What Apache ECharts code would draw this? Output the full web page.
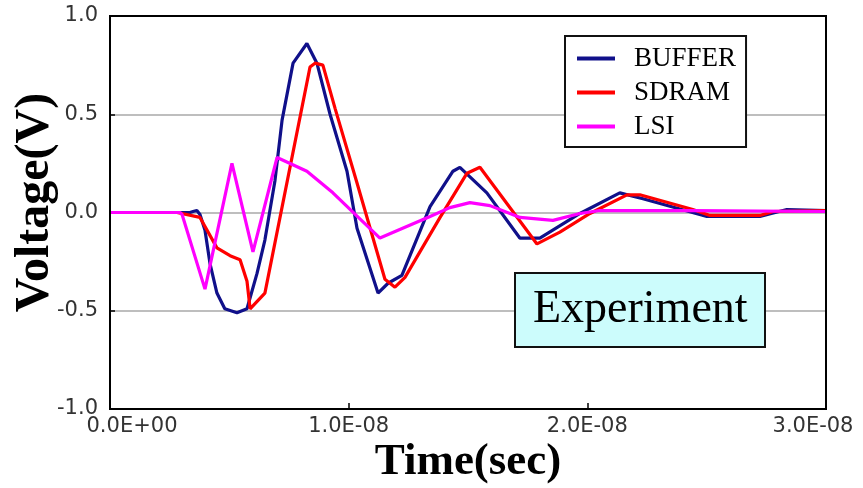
<!DOCTYPE html>
<html>
<head>
<meta charset="utf-8">
<script src="https://cdn.jsdelivr.net/npm/echarts@6/dist/echarts.min.js"></script>
<style>
html,body{margin:0;padding:0;background:#fff;}
#chart{width:863px;height:488px;}
</style>
</head>
<body>
<div id="chart"></div>
<script>
// Time in ns (1 ns = 1E-09 sec), voltage in V
var seriesNames = ['BUFFER', 'SDRAM', 'LSI'];
var xTicksNs = [0, 10, 20, 30];
var yTicks = [-1.0, -0.5, 0.0, 0.5, 1.0];

var bufferT = [0, 3.35, 3.48, 3.64, 3.77, 3.98, 4.19, 4.48, 4.81, 5.32, 5.74, 6.16, 6.49, 6.91, 7.21, 7.67, 8.25, 8.67, 9.22, 9.93, 10.35, 11.23, 11.65, 12.23, 13.41, 14.37, 14.66, 15.79, 17.17, 18.01, 19.69, 21.36, 22.33, 25.01, 27.23, 28.36, 30.0];
var bufferV = [0, 0, 0.005, 0.01, -0.01, -0.09, -0.26, -0.41, -0.49, -0.51, -0.49, -0.31, -0.14, 0.16, 0.47, 0.76, 0.86, 0.76, 0.50, 0.21, -0.08, -0.41, -0.36, -0.32, 0.03, 0.21, 0.23, 0.10, -0.13, -0.13, -0.005, 0.10, 0.07, -0.02, -0.02, 0.015, 0.01];

var sdramT = [0, 1.97, 2.81, 3.77, 4.48, 5.03, 5.45, 5.74, 5.87, 6.49, 8.38, 8.59, 8.92, 9.43, 10.35, 11.52, 11.94, 12.36, 13.83, 14.96, 15.50, 17.89, 18.85, 20.11, 21.66, 22.20, 24.42, 25.14, 27.23, 27.78, 30.0];
var sdramV = [0, 0, 0, -0.025, -0.18, -0.22, -0.24, -0.35, -0.49, -0.41, 0.74, 0.76, 0.75, 0.53, 0.15, -0.34, -0.38, -0.33, -0.025, 0.20, 0.23, -0.16, -0.10, -0.005, 0.09, 0.09, 0.015, -0.015, -0.015, 0.005, 0.01];

var lsiT = [0, 2.93, 3.02, 3.98, 5.11, 5.99, 7.0, 8.25, 9.34, 11.31, 13.41, 14.24, 15.08, 15.92, 17.18, 18.56, 19.69, 20.53, 24.42, 30.0];
var lsiV = [0, 0, -0.01, -0.39, 0.25, -0.20, 0.28, 0.21, 0.10, -0.13, -0.02, 0.025, 0.05, 0.035, -0.025, -0.04, -0.005, 0.01, 0.01, 0.005];

var seriesColors = ['#10108a', '#ff0000', '#ff00ff'];

function pairs(t, v) {
  var out = [];
  for (var i = 0; i < t.length; i++) out.push([t[i], v[i]]);
  return out;
}
function fmtSec(ns) {
  var s = (ns * 1e-9).toExponential(1); // e.g. 1.0e-8
  var parts = s.split('e');
  var exp = parseInt(parts[1], 10);
  var sign = exp < 0 ? '-' : '+';
  var a = Math.abs(exp);
  return parts[0] + 'E' + sign + (a < 10 ? '0' : '') + a;
}
function xLabel(v) {
  var txt = fmtSec(v);
  if (v === xTicksNs[0]) return '{first|' + txt + '}';
  if (v === xTicksNs[xTicksNs.length - 1]) return '{last|' + txt + '}';
  return txt;
}

var chart = echarts.init(document.getElementById('chart'), null, {renderer: 'canvas'});
var tickFont = {fontFamily: 'DejaVu Sans', fontSize: 21, color: '#333'};

chart.setOption({
  animation: false,
  backgroundColor: '#fff',
  grid: {left: 110, right: 37, top: 16, bottom: 79, containLabel: false, outerBoundsMode: 'none', show: true, borderColor: '#000', borderWidth: 2, backgroundColor: 'transparent', z: 5},
  title: {
    text: 'Experiment',
    left: 515, top: 273,
    backgroundColor: '#ccfcfc',
    borderColor: '#111', borderWidth: 2,
    padding: [14, 18, 14, 18],
    textStyle: {fontFamily: 'Liberation Serif', fontWeight: 'normal', fontSize: 46, lineHeight: 46, color: '#000'}
  },
  legend: {
    orient: 'vertical',
    left: 565, top: 36,
    data: seriesNames,
    icon: 'rect',
    itemWidth: 38, itemHeight: 4,
    itemGap: 7,
    padding: [9, 10, 7, 12],
    backgroundColor: '#fff',
    borderColor: '#111', borderWidth: 2,
    textStyle: {fontFamily: 'Liberation Serif', fontSize: 27, color: '#000', padding: [0, 0, 0, 14]}
  },
  xAxis: {
    type: 'value',
    min: xTicksNs[0], max: xTicksNs[xTicksNs.length - 1], interval: xTicksNs[1] - xTicksNs[0],
    name: 'Time(sec)', nameLocation: 'middle', nameGap: 31, nameMoveOverlap: false,
    nameTextStyle: {fontFamily: 'Liberation Serif', fontWeight: 'bold', fontSize: 45, color: '#000'},
    axisLine: {show: true, onZero: false, lineStyle: {color: '#000', width: 2}},
    axisTick: {show: true, inside: true, length: 6, lineStyle: {color: '#000', width: 1.5}},
    axisLabel: Object.assign({
      margin: 7, formatter: xLabel,
      rich: {
        first: {fontFamily: 'DejaVu Sans', fontSize: 21, color: '#333', padding: [0, 0, 0, 44]},
        last: {fontFamily: 'DejaVu Sans', fontSize: 21, color: '#333', padding: [0, 26, 0, 0]}
      }
    }, tickFont),
    splitLine: {show: false}
  },
  yAxis: {
    type: 'value',
    min: yTicks[0], max: yTicks[yTicks.length - 1], interval: yTicks[1] - yTicks[0],
    name: 'Voltage(V)', nameLocation: 'middle', nameGap: 50, nameRotate: 90, nameMoveOverlap: false,
    nameTextStyle: {fontFamily: 'Liberation Serif', fontWeight: 'bold', fontSize: 48, color: '#000', padding: [0, 0, 0, 20]},
    axisLine: {show: true, onZero: false, lineStyle: {color: '#000', width: 2}},
    axisTick: {show: true, inside: true, length: 5, lineStyle: {color: '#000', width: 1.5}},
    axisLabel: Object.assign({margin: 12, formatter: function (v) { return v.toFixed(1); }}, tickFont),
    splitLine: {show: true, lineStyle: {color: '#a8a8a8', width: 1.5}}
  },
  series: [
    {name: seriesNames[0], type: 'line', data: pairs(bufferT, bufferV), showSymbol: false, symbol: 'none', lineStyle: {color: seriesColors[0], width: 3.2}, itemStyle: {color: seriesColors[0]}, z: 2},
    {name: seriesNames[1], type: 'line', data: pairs(sdramT, sdramV), showSymbol: false, symbol: 'none', lineStyle: {color: seriesColors[1], width: 3.2}, itemStyle: {color: seriesColors[1]}, z: 3},
    {name: seriesNames[2], type: 'line', data: pairs(lsiT, lsiV), showSymbol: false, symbol: 'none', lineStyle: {color: seriesColors[2], width: 3.2}, itemStyle: {color: seriesColors[2]}, z: 4}
  ]
});
</script>
</body>
</html>
